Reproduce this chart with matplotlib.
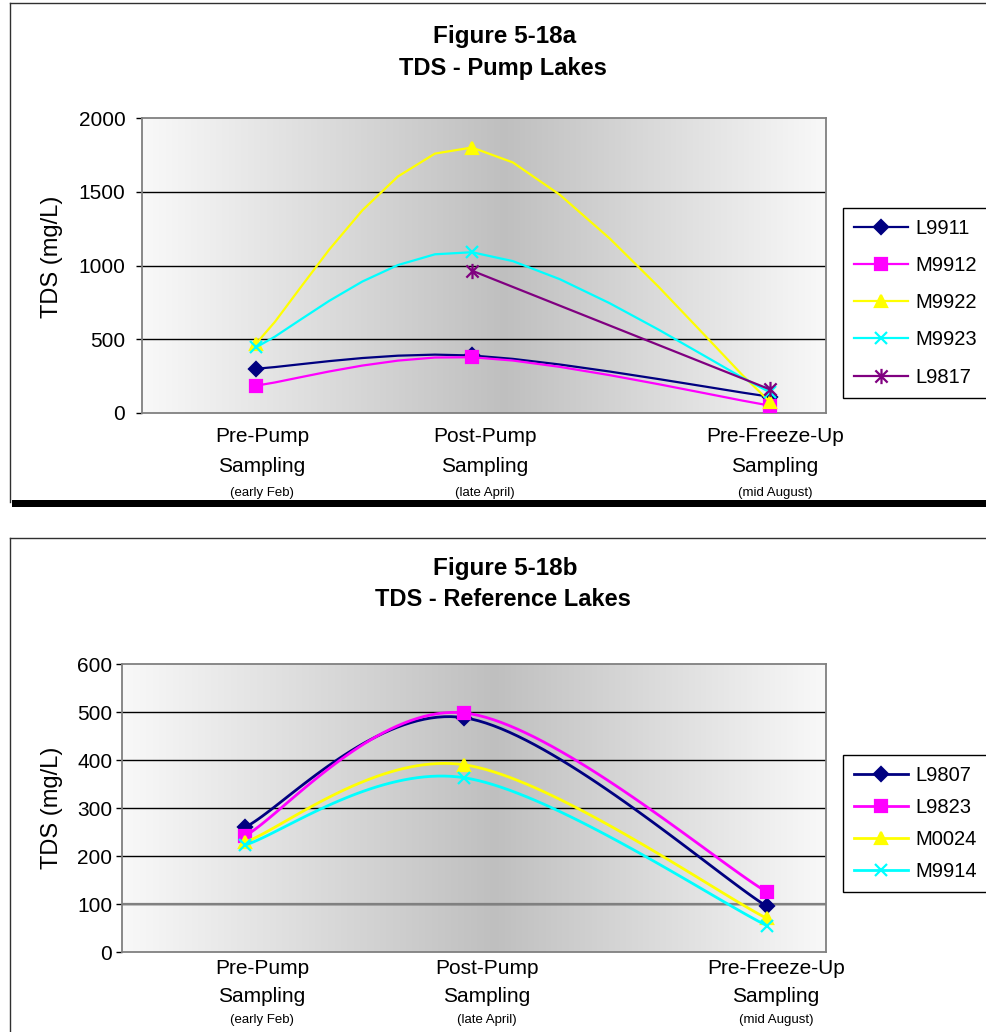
import numpy as np
import matplotlib.pyplot as plt
from matplotlib.path import Path
from matplotlib.lines import Line2D
from matplotlib.patches import Rectangle

plt.rcParams['font.family'] = ['Liberation Sans', 'DejaVu Sans']

W, H = 986, 1032

# sampling dates (day of year) and their labels
days = [36, 115, 224]
stage_top = ['Pre-Pump', 'Post-Pump', 'Pre-Freeze-Up']
stage_when = ['(early Feb)', '(late April)', '(mid August)']

# Figure 5-18a - pump lakes, TDS in mg/L
pump_lakes = ['L9911', 'M9912', 'M9922', 'M9923', 'L9817']
l9911 = [300, 390, 110]
m9912 = [185, 378, 50]
m9922 = [470, 1800, 75]
m9923 = [445, 1090, 140]
l9817 = [np.nan, 965, 160]

# Figure 5-18b - reference lakes, TDS in mg/L
ref_lakes = ['L9807', 'L9823', 'M0024', 'M9914']
l9807 = [260, 488, 95]
l9823 = [242, 498, 125]
m0024 = [229, 390, 70]
m9914 = [223, 363, 55]

colors = ['#000080', '#FF00FF', '#FFFF00', '#00FFFF', '#800080']
star = Path([(0, -1), (0, 1), (-0.8, -0.8), (0.8, 0.8), (-0.8, 0.8), (0.8, -0.8)],
            [Path.MOVETO, Path.LINETO, Path.MOVETO, Path.LINETO, Path.MOVETO, Path.LINETO])
markers = ['D', 's', '^', 'x', star]
msizes = [7, 9, 9, 9, 11]


def fx(x):
    return x / W


def fy(y):
    return 1 - y / H


def smooth_curve(ax, xs, ys, n=20):
    # Bezier smoothing done in screen space, like a spreadsheet "smoothed line"
    pts = ax.transData.transform(np.column_stack([xs, ys]))
    out = [pts[0]]
    t = np.linspace(0, 1, n)[1:, None]
    for i in range(len(pts) - 1):
        p0 = pts[i - 1] if i > 0 else pts[i]
        p1, p2 = pts[i], pts[i + 1]
        p3 = pts[i + 2] if i + 2 < len(pts) else pts[i + 1]
        c1 = p1 + (p2 - p0) / 6
        c2 = p2 - (p3 - p1) / 6
        seg = (1 - t) ** 3 * p1 + 3 * (1 - t) ** 2 * t * c1 + 3 * (1 - t) * t ** 2 * c2 + t ** 3 * p2
        out.extend(seg)
    return ax.transData.inverted().transform(np.array(out))


def gradient(ax):
    t = np.linspace(0, 1, 400)
    g = np.interp(t, [0, 0.53, 1], [0.975, 0.75, 0.975])
    img = np.dstack([g, g, g]).repeat(2, axis=0)
    ax.imshow(img, extent=[0, 1, 0, 1], transform=ax.transAxes, aspect='auto', zorder=0)


def build_chart(box, xlim, ylim, step, names, series, fig_no, subtitle, tick_pad,
                title_y, label_y, ylabel_y, legend_top, legend_gap, lw, nseg, axis_at=None):
    left, top, right, bottom = box
    ax = fig.add_axes([fx(left), fy(bottom), fx(right - left), (bottom - top) / H])
    gradient(ax)
    ax.set_xlim(*xlim)
    ax.set_ylim(*ylim)
    ax.set_yticks(np.arange(ylim[0], ylim[1] + 1, step))
    ax.set_xticks([])
    ax.tick_params(axis='y', length=4, width=1, pad=tick_pad, labelsize=15)
    for s in ax.spines.values():
        s.set_color('#808080')
        s.set_linewidth(1.3)
    for v in np.arange(ylim[0] + step, ylim[1], step):
        ax.axhline(v, color='black', lw=1, zorder=1)
    if axis_at is not None:
        ax.axhline(axis_at, color='#808080', lw=1.6, zorder=1.5)

    handles = []
    for i, (name, vals) in enumerate(zip(names, series)):
        x = np.array(days, dtype=float)
        y = np.array(vals, dtype=float)
        ok = ~np.isnan(y)
        curve = smooth_curve(ax, x[ok], y[ok], nseg)
        ax.plot(curve[:, 0], curve[:, 1], color=colors[i], lw=lw, zorder=3 + i)
        ax.plot(x[ok], y[ok], ls='none', marker=markers[i], ms=msizes[i],
                color=colors[i], mew=1.6, zorder=3 + i, clip_on=False)
        handles.append(Line2D([], [], color=colors[i], lw=lw, marker=markers[i],
                              ms=msizes[i], mew=1.6))

    leg = ax.legend(handles, names, loc='upper left', bbox_to_anchor=(fx(843), fy(legend_top)),
                    bbox_transform=fig.transFigure, borderaxespad=0, fontsize=14.5,
                    handlelength=2.7, labelspacing=legend_gap, handletextpad=0.35,
                    borderpad=0.55, fancybox=False, framealpha=1)
    leg.get_frame().set_edgecolor('black')
    leg.get_frame().set_linewidth(1)

    fig.text(fx(505), fy(title_y[0]), fig_no, ha='center', va='center',
             fontsize=17.5, fontweight='bold')
    fig.text(fx(503), fy(title_y[1]), subtitle, ha='center', va='center',
             fontsize=17, fontweight='bold')
    fig.text(fx(52), fy(ylabel_y), 'TDS (mg/L)', rotation=90, ha='center', va='center',
             fontsize=17)
    for cx, top_txt, when in zip(label_y[0], stage_top, stage_when):
        fig.text(fx(cx), fy(label_y[1]), top_txt, ha='center', va='center', fontsize=15)
        fig.text(fx(cx), fy(label_y[2]), 'Sampling', ha='center', va='center', fontsize=15)
        fig.text(fx(cx), fy(label_y[3]), when, ha='center', va='center', fontsize=9.5)
    return ax


fig = plt.figure(figsize=(W / 100, H / 100), dpi=100)

# chart frames
fig.add_artist(Line2D([fx(10), fx(10)], [fy(3), fy(502)], color='#303030', lw=1))
fig.add_artist(Line2D([fx(10), fx(986)], [fy(3), fy(3)], color='#303030', lw=1))
fig.add_artist(Rectangle((fx(12), fy(507)), fx(986 - 12), 7 / H, color='black', lw=0))
fig.add_artist(Line2D([fx(10), fx(10)], [fy(538), fy(1032)], color='#303030', lw=1))
fig.add_artist(Line2D([fx(10), fx(986)], [fy(538), fy(538)], color='#303030', lw=1))

build_chart((142, 118, 826, 413), (-5.7, 244.5), (0, 2000), 500, pump_lakes,
            [l9911, m9912, m9922, m9923, l9817], 'Figure 5-18a', 'TDS - Pump Lakes',
            tick_pad=8, title_y=(36, 68), label_y=((262, 485, 775), 437, 466, 493),
            ylabel_y=257, legend_top=208, legend_gap=0.9, lw=1.6, nseg=8)

build_chart((122, 664, 826, 952), (-8.4, 245.3), (0, 600), 100, ref_lakes,
            [l9807, l9823, m0024, m9914], 'Figure 5-18b', 'TDS - Reference Lakes',
            tick_pad=3, title_y=(568, 599), label_y=((262, 487, 776), 969, 996, 1020),
            ylabel_y=808, legend_top=755, legend_gap=0.65, lw=2.0, nseg=40, axis_at=100)

fig.savefig('out.png', dpi=100)
